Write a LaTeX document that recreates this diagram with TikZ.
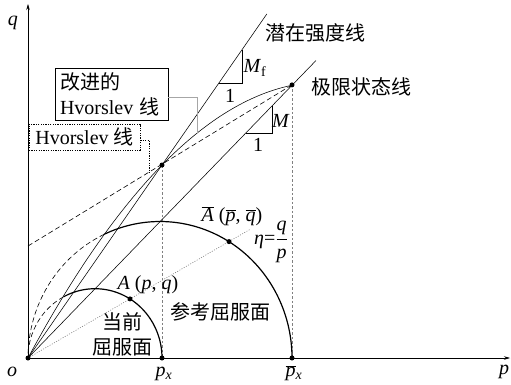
\documentclass[tikz,border=0pt]{standalone}
\usepackage{fontspec}
\setmainfont{Liberation Serif}
\newfontfamily\cjk{Noto Sans CJK SC}
\usetikzlibrary{arrows.meta}
\begin{document}
\begin{tikzpicture}[x=1pt,y=-1pt,
  lab/.style={font=\fontsize{20}{25}\selectfont, inner sep=0pt},
  axis/.style={line width=0.6pt, -{Stealth[length=6pt,width=3.5pt]}},
  ln/.style={line width=0.55pt},
  arcsolid/.style={line width=1.2pt},
  arcdash/.style={line width=0.6pt, dash pattern=on 5pt off 3pt},
  hvdash/.style={line width=0.6pt, dash pattern=on 5pt off 3pt},
  guide/.style={gray, line width=0.5pt, dash pattern=on 2.5pt off 2pt},
  etaline/.style={gray, line width=0.6pt, dash pattern=on 1pt off 1.5pt},
  conn/.style={gray!70, line width=0.9pt},
  connd/.style={line width=0.6pt, dash pattern=on 1.2pt off 1.2pt},
  dot/.style={circle, fill=black, inner sep=0pt, minimum size=5pt}]
\useasboundingbox (0,0) rectangle (511,384);

% key points
\coordinate (O) at (28,358);
\coordinate (Xend) at (510,358);
\coordinate (Yend) at (28,4);
\coordinate (PX) at (162,358);
\coordinate (PXb) at (292,358);
\coordinate (D) at (162,165);
\coordinate (C) at (292,84.9);
\coordinate (PSLend) at (266.8,14);
\coordinate (CSLend) at (316,60.5);
\coordinate (HV0) at (28,246);
\coordinate (Aq) at (130,298.9);
\coordinate (Ab) at (229,241.6);
\coordinate (Etaend) at (250,229.4);
\coordinate (HK) at (197,133);
\coordinate (HV1) at (149,172.2);

% guides
\draw[guide] (D) -- (PX);
\draw[guide] (C) -- (PXb);
\draw[etaline] (O) -- (Etaend);

% axes
\draw[axis] (O) -- (Xend);
\draw[axis] (O) -- (Yend);

% lines
\draw[ln] (O) -- (PSLend);
\draw[ln] (O) -- (CSLend);
\draw[hvdash] (HV0) -- (C);
\draw[ln] plot[domain=0:264, samples=90] ({28+\x},{358-1.859*\x+0.003123*\x*\x});

% yield surfaces
\draw[arcsolid] plot[domain=0:115, samples=90] ({160+132*cos(\x)},{358-136.5*sin(\x)});
\draw[arcdash] plot[domain=115:180, samples=60] ({160+132*cos(\x)},{358-136.5*sin(\x)});
\draw[arcsolid] plot[domain=0:118, samples=80] ({95+67*cos(\x)},{358-69.3*sin(\x)});
\draw[arcdash] plot[domain=118:180, samples=50] ({95+67*cos(\x)},{358-69.3*sin(\x)});

% slope triangles
\coordinate (mf1) at (219,83);
\coordinate (mf2) at (242,83);
\coordinate (mf3) at (242,49.8);
\draw[ln] (mf1) -- (mf2) -- (mf3);
\coordinate (m1) at (245.6,133);
\coordinate (m2) at (272,133);
\coordinate (m3) at (272,105.7);
\draw[ln] (m1) -- (m2) -- (m3);

% dots
\foreach \p in {O,PX,PXb,D,C,Aq,Ab} \node[dot] at (\p) {};

% boxes
\node[draw, line width=0.8pt, lab, minimum width=113pt, minimum height=52pt,
      text width=103pt, inner xsep=5pt, align=left] (box1) at (111.5,94)
      {{\cjk 改进的}\\Hvorslev {\cjk 线}};
\node[draw, connd, lab, minimum width=111pt, minimum height=26pt,
      inner xsep=4pt] (box2) at (84.5,137) {Hvorslev {\cjk 线}};
\draw[conn] ([yshift=-3pt]box1.east) -| (HK);
\draw[connd] ([yshift=-3pt]box2.east) -| (HV1);

% labels
\node[lab] (lq) at (13,23) {\textit{q}};
\node[lab] (lo) at (12,372) {\textit{o}};
\node[lab] (lp) at (504,372) {\textit{p}};
\node[lab] (lpx) at (164,374) {\textit{p}\textsubscript{\textit{x}}};
\node[lab] (lpxb) at (294,373) {$\overline{\mbox{\textit{p}}}$\textsubscript{\textit{x}}};
\node[lab] (lpsl) at (315,33) {\cjk 潜在强度线};
\node[lab] (lcsl) at (361,87) {\cjk 极限状态线};
\node[lab] (lmf) at (255,68) {\textit{M}\textsubscript{f}};
\node[lab] (l1a) at (230,96) {1};
\node[lab] (lm) at (281,121) {\textit{M}};
\node[lab] (l1b) at (258,145) {1};
\node[lab] (lA) at (148,285) {\textit{A} (\textit{p}, \textit{q})};
\node[lab] (lAb) at (232,216) {$\overline{\mbox{\textit{A}}}$ ($\overline{\mbox{\textit{p}}}$, $\overline{\mbox{\textit{q}}}$)};
\node[lab] (leta) at (271,242) {\textit{η}=$\displaystyle\frac{\mbox{\textit{q}}}{\mbox{\textit{p}}}$};
\node[lab] (lref) at (220,312) {\cjk 参考屈服面};
\node[lab] (lcur1) at (122,322) {\cjk 当前};
\node[lab] (lcur2) at (122,347) {\cjk 屈服面};
\end{tikzpicture}
\end{document}
